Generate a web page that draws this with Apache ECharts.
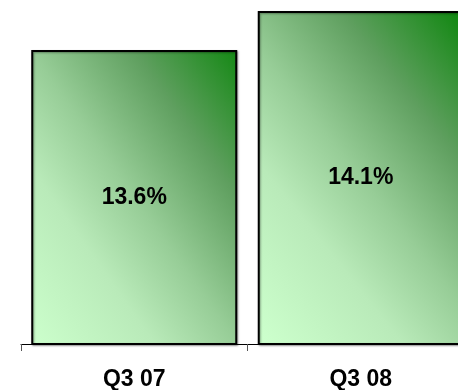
<!DOCTYPE html>
<html>
<head>
<meta charset="utf-8">
<script src="https://cdn.jsdelivr.net/npm/echarts@6/dist/echarts.min.js"></script>
<style>html,body{margin:0;padding:0;background:#fff}#c{width:458px;height:390px}</style>
</head>
<body>
<div id="c"></div>
<script>
var categories = ['Q3 07', 'Q3 08'];
var values = [13.6, 14.1];
var valueLabels = ['13.6%', '14.1%'];

var chart = echarts.init(document.getElementById('c'), null, {renderer: 'canvas'});
function makeGrad() {
  return new echarts.graphic.LinearGradient(-0.17, 0.83, 1.17, 0.17, [
    {offset: 0, color: '#ccffcc'},
    {offset: 0.3, color: '#b9eab9'},
    {offset: 0.5, color: '#97cd97'},
    {offset: 0.75, color: '#5f9f5f'},
    {offset: 1, color: '#148814'}
  ]);
}
chart.setOption({
  animation: false,
  grid: {left: 21, top: 11, width: 453, bottom: 46, containLabel: false, outerBoundsMode: 'none'},
  xAxis: {
    type: 'category',
    data: categories,
    axisLine: {lineStyle: {color: '#000', width: 1}},
    axisTick: {show: true, length: 7, lineStyle: {color: '#555'}},
    axisLabel: {
      margin: 24,
      fontFamily: 'Liberation Sans, Arial, sans-serif',
      fontWeight: 'bold',
      fontSize: 23,
      color: '#000'
    }
  },
  yAxis: {
    type: 'value',
    min: 9.83,
    max: 14.1,
    show: false,
    splitLine: {show: false}
  },
  series: [{
    type: 'bar',
    data: values,
    barWidth: 206,
    itemStyle: {
      color: makeGrad(),
      borderColor: '#000',
      borderWidth: 2,
      shadowColor: 'rgba(0,0,0,0.35)',
      shadowBlur: 2,
      shadowOffsetX: 1,
      shadowOffsetY: 1
    },
    label: {
      show: true,
      position: 'inside',
      formatter: function (p) { return valueLabels[p.dataIndex]; },
      fontFamily: 'Liberation Sans, Arial, sans-serif',
      fontWeight: 'bold',
      fontSize: 23,
      color: '#000'
    }
  }]
});
</script>
</body>
</html>
